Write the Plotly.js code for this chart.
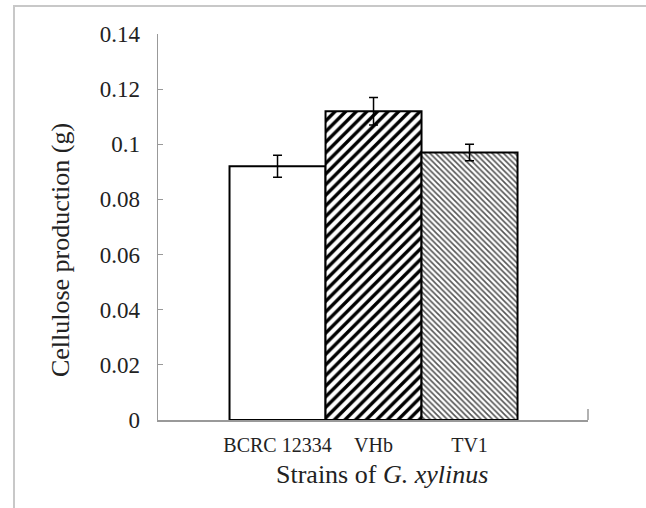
<!DOCTYPE html>
<html>
<head>
<meta charset="utf-8">
<script src="https://cdn.plot.ly/plotly-3.0.1.min.js"></script>
<style>
  html, body { margin: 0; padding: 0; background: #fff; }
  #wrap { position: relative; width: 646px; height: 508px; }
  #chart { position: absolute; left: 0; top: 0; width: 646px; height: 508px; }
  #frame { position: absolute; left: 13px; top: 5px; right: 0; bottom: 0;
           border-top: 2px solid #c8c8c8; border-left: 2px solid #c8c8c8; pointer-events: none; }
</style>
</head>
<body>
<div id="wrap">
  <div id="chart"></div>
  <div id="frame"></div>
</div>
<script>
// Data
const strains = ["BCRC 12334", "VHb", "TV1"];
const production = [0.092, 0.112, 0.097];
const errors = [0.004, 0.005, 0.003];
const yTicks = [0, 0.02, 0.04, 0.06, 0.08, 0.1, 0.12, 0.14];
const yTickText = ["0", "0.02", "0.04", "0.06", "0.08", "0.1", "0.12", "0.14"];
const xTitle = "Strains of <i>G. xylinus</i>";
const yTitle = "Cellulose production (g)";

const positions = strains.map((s, i) => i);
const patterns = [
  { shape: "", fillmode: "replace" },
  { shape: "/", fgcolor: "#000", bgcolor: "#fff", size: 7.5, solidity: 0.45, fillmode: "replace" },
  { shape: "\\", fgcolor: "#555", bgcolor: "#fff", size: 4, solidity: 0.4, fillmode: "replace" }
];

const traces = strains.map((s, i) => ({
  type: "bar",
  x: [positions[i]],
  y: [production[i]],
  width: 1,
  name: s,
  marker: {
    color: "#fff",
    line: { color: "#000", width: 2 },
    pattern: patterns[i]
  },
  error_y: {
    type: "data",
    array: [errors[i]],
    visible: true,
    color: "#000",
    thickness: 1.5,
    width: 4.5
  },
  showlegend: false,
  hoverinfo: "x+y"
}));

const serif = "Liberation Serif, Times New Roman, serif";

const layout = {
  width: 646,
  height: 508,
  margin: { l: 158, r: 58, t: 34, b: 88 },
  paper_bgcolor: "rgba(0,0,0,0)",
  plot_bgcolor: "#fff",
  barmode: "overlay",
  bargap: 0,
  xaxis: {
    range: [-1.245, 3.234],
    tickvals: positions,
    ticktext: strains,
    ticks: "",
    showgrid: false,
    zeroline: false,
    showline: true,
    linecolor: "#999",
    linewidth: 1.5,
    tickfont: { family: serif, size: 20, color: "#222" },
    ticklabelstandoff: 6
  },
  yaxis: {
    range: [0, 0.14],
    tickvals: yTicks,
    ticktext: yTickText,
    ticks: "inside",
    ticklen: 5,
    tickcolor: "#999",
    tickwidth: 1,
    showgrid: false,
    zeroline: false,
    showline: true,
    linecolor: "#999",
    linewidth: 1.5,
    tickfont: { family: serif, size: 23, color: "#222" },
    ticklabelstandoff: 12
  },
  annotations: [
    { text: xTitle, xref: "paper", yref: "paper", x: 0.521, y: -0.142,
      xanchor: "center", yanchor: "middle", showarrow: false,
      font: { family: serif, size: 26, color: "#222" } },
    { text: yTitle, xref: "paper", yref: "paper", x: -0.228, y: 0.44,
      xanchor: "center", yanchor: "middle", showarrow: false, textangle: -90,
      font: { family: serif, size: 26, color: "#222" } }
  ],
  shapes: [
    { type: "line", xref: "paper", yref: "y", x0: 1, x1: 1, y0: 0, y1: 0.004,
      line: { color: "#999", width: 1.5 } }
  ],
  font: { family: serif, color: "#222" }
};

Plotly.newPlot("chart", traces, layout, { displayModeBar: false, staticPlot: true });
</script>
</body>
</html>
